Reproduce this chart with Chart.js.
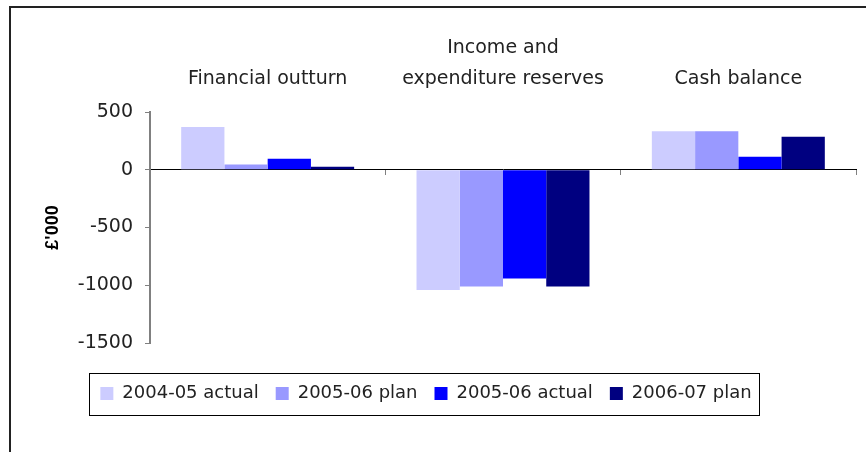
<!DOCTYPE html>
<html>
<head>
<meta charset="utf-8">
<script src="https://cdn.jsdelivr.net/npm/chart.js@4/dist/chart.umd.min.js"></script>
<style>
  body { margin: 0; background: #fff; overflow: hidden; }
  #frame { position: absolute; left: 9px; top: 6px; width: 900px; height: 500px;
           border-left: 2px solid #222; border-top: 2px solid #222; }
  canvas { position: absolute; left: 0; top: 0; }
</style>
</head>
<body>
<div id="frame"></div>
<canvas id="chart" width="866" height="452"></canvas>
<script>
var categories = [['Financial outturn'], ['Income and', 'expenditure reserves'], ['Cash balance']];
var seriesNames = ['2004-05 actual', '2005-06 plan', '2005-06 actual', '2006-07 plan'];
var actual0405 = [370, -1042, 333];
var plan0506 = [45, -1010, 333];
var actual0506 = [95, -941, 112];
var plan0607 = [25, -1010, 285];
var yTicks = [500, 0, -500, -1000, -1500];

var colours = ['#ccccff', '#9999ff', '#0000ff', '#000080'];
var values = [actual0405, plan0506, actual0506, plan0607];

var textFont = { family: 'DejaVu Sans', size: 19 };

// shift the legend so it sits where the original one does, then box it in
var legendBox = {
  id: 'legendBox',
  afterLayout: function (chart) {
    var lg = chart.legend, h = lg.height;
    lg.left -= 7;
    lg.right -= 7;
    lg.top = 390 - h / 2;
    lg.bottom = lg.top + h;
  },
  afterDraw: function (chart) {
    var boxes = chart.legend.legendHitBoxes;
    if (!boxes || !boxes.length) return;
    var first = boxes[0], last = boxes[boxes.length - 1];
    var cy = first.top + first.height / 2;
    var ctx = chart.ctx;
    ctx.save();
    ctx.strokeStyle = '#000';
    ctx.lineWidth = 1;
    ctx.strokeRect(Math.round(first.left - 11) + 0.5, Math.round(cy - 21) + 0.5,
      Math.round(last.left + last.width - first.left + 19), 42);
    ctx.restore();
  }
};

new Chart(document.getElementById('chart'), {
  type: 'bar',
  data: {
    labels: categories,
    datasets: seriesNames.map(function (name, i) {
      return {
        label: name,
        data: values[i],
        xAxisID: 'x',
        backgroundColor: colours[i],
        borderWidth: 0,
        barPercentage: 1,
        categoryPercentage: 0.735
      };
    })
  },
  options: {
    responsive: false,
    animation: false,
    layout: { padding: { top: 22, left: 10, right: 10, bottom: 64 } },
    scales: {
      x: {
        type: 'category',
        position: { y: 0 },
        offset: true,
        grid: { offset: true, drawOnChartArea: false, tickLength: 5, color: '#808080' },
        border: { color: '#000', width: 1 },
        ticks: { display: false }
      },
      xTop: {
        type: 'category',
        labels: categories,
        position: 'top',
        offset: true,
        grid: { display: false },
        border: { display: false },
        ticks: {
          font: { family: 'DejaVu Sans', size: 19, lineHeight: '31px' },
          color: '#222',
          padding: 9,
          maxRotation: 0,
          autoSkip: false
        },
        afterFit: function (s) { s.height = 90; }
      },
      y: {
        min: -1500,
        max: 500,
        afterBuildTicks: function (s) {
          s.ticks = yTicks.map(function (v) { return { value: v }; });
        },
        grid: { drawOnChartArea: false, tickLength: 5, color: '#808080' },
        border: { color: '#808080', width: 2 },
        ticks: {
          font: textFont,
          color: '#222',
          padding: 12,
          callback: function (v) { return String(v); }
        },
        title: {
          display: true,
          text: "£'000",
          font: { family: 'Liberation Sans', size: 18, weight: 'bold' },
          color: '#000',
          padding: { top: 32, bottom: 0 }
        },
        afterFit: function (s) { s.width = 140; }
      }
    },
    plugins: {
      legend: {
        position: 'bottom',
        labels: {
          boxWidth: 13,
          boxHeight: 13,
          padding: 17,
          font: { family: 'DejaVu Sans', size: 18 },
          color: '#222'
        }
      },
      tooltip: { enabled: false }
    }
  },
  plugins: [legendBox]
});
</script>
</body>
</html>
